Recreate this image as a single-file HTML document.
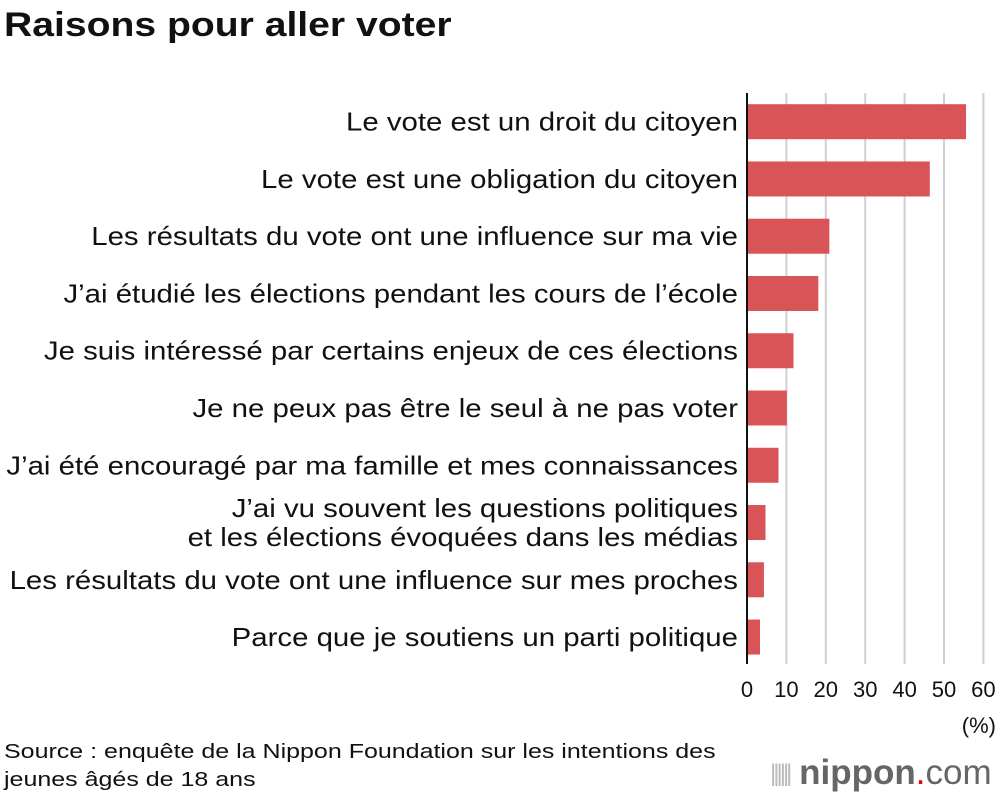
<!DOCTYPE html>
<html><head><meta charset="utf-8"><style>
html,body{margin:0;padding:0;background:#fff;}
body{width:1000px;height:796px;position:relative;overflow:hidden;font-family:"Liberation Sans",sans-serif;}
#title{position:absolute;left:4px;top:6px;font-size:34px;font-weight:bold;color:#111;transform:scaleX(1.15);transform-origin:0 0;white-space:nowrap;}
#source{position:absolute;left:4px;top:738px;font-size:20px;line-height:28px;color:#111;transform:scaleX(1.25);transform-origin:0 0;white-space:nowrap;}
#logo{position:absolute;left:770px;top:753px;font-size:35px;color:#666;white-space:nowrap;}
</style></head><body>
<div id="title">Raisons pour aller voter</div>
<svg id="chart" width="1000" height="796" style="position:absolute;left:0;top:0"></svg>
<div id="source">Source : enquête de la Nippon Foundation sur les intentions des<br>jeunes âgés de 18 ans</div>
<div id="logo"><span style="color:#bbb;font-size:24px;letter-spacing:-3px;vertical-align:3px">||||||</span> <b style="font-weight:bold">nippon</b><span style="color:#e60012">.</span>com</div>
<script>
const categories=["Le vote est un droit du citoyen","Le vote est une obligation du citoyen","Les résultats du vote ont une influence sur ma vie","J’ai étudié les élections pendant les cours de l’école","Je suis intéressé par certains enjeux de ces élections","Je ne peux pas être le seul à ne pas voter","J’ai été encouragé par ma famille et mes connaissances","J’ai vu souvent les questions politiques|et les élections évoquées dans les médias","Les résultats du vote ont une influence sur mes proches","Parce que je soutiens un parti politique"];
const values=[55.6,46.4,20.9,18.1,11.8,10.1,8.0,4.7,4.3,3.3];
const ticks=[0,10,20,30,40,50,60];
const svg=document.getElementById('chart');
const NS='http://www.w3.org/2000/svg';
const x0=747,pxPer=3.94,yc0=121.7,pitch=57.26,bh=35;
const xs=v=>x0+v*pxPer;
const ys=i=>yc0+i*pitch;
function mk(t,a){const e=document.createElementNS(NS,t);for(const k in a)e.setAttribute(k,a[k]);svg.appendChild(e);return e;}
ticks.forEach(t=>{
 if(t>0){const g=mk('line',{x1:xs(t),x2:xs(t),y1:93,y2:664,stroke:'#d0d0d0','stroke-width':2});
 
 }
 const l=mk('text',{x:xs(t),y:697,'text-anchor':'middle','font-size':22,fill:'#111'});
 l.textContent=t;
 
 
});
values.forEach((v,i)=>{
 const r=mk('rect',{x:x0,y:ys(i)-bh/2,width:xs(v)-x0,height:bh,fill:'#d95457'});
 
 
 const parts=categories[i].split('|');
 parts.forEach((p,j)=>{
  const t=mk('text',{x:738,y:ys(i)+9+(j-(parts.length-1)/2)*29,'text-anchor':'end','font-size':26,fill:'#111'});
  
  
  t.textContent=p;
  const w=t.getComputedTextLength();
  t.setAttribute('textLength',w*1.13);
  t.setAttribute('lengthAdjust','spacingAndGlyphs');
 });
});
const ax=mk('line',{x1:x0,x2:x0,y1:93,y2:664,stroke:'#111','stroke-width':2});


const u=mk('text',{x:996,y:733,'text-anchor':'end','font-size':22,fill:'#111'});
u.textContent='(%)';


</script>
</body></html>
